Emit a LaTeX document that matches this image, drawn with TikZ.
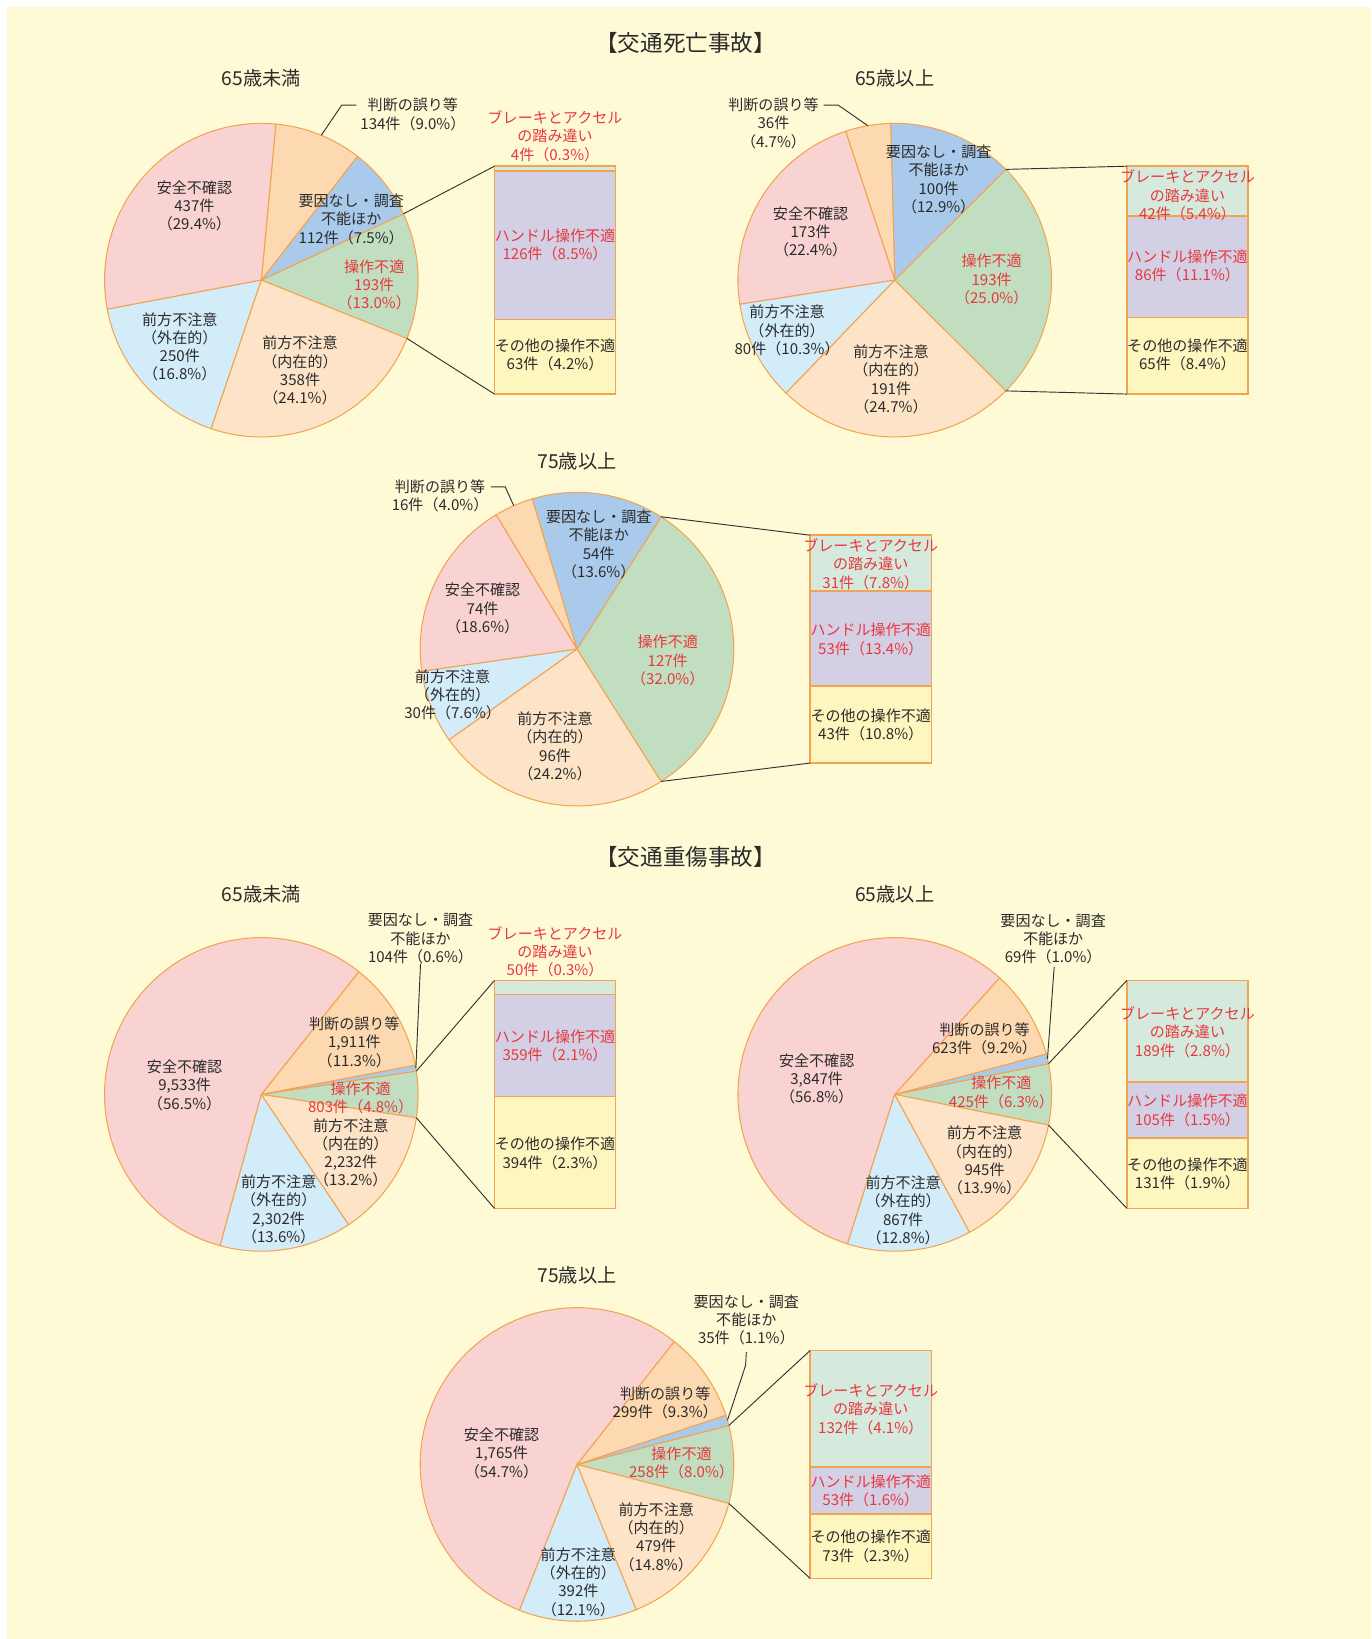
\documentclass[tikz,border=0pt]{standalone}
\usepackage{fontspec}
\setmainfont{Noto Sans CJK JP}
\usetikzlibrary{calc}

\definecolor{bgyellow}{HTML}{FFFAD6}
\definecolor{pieline}{HTML}{F2A450}
\definecolor{unsafecol}{HTML}{F9D2D2}
\definecolor{judgecol}{HTML}{FCD9B0}
\definecolor{nocausecol}{HTML}{A9CAEB}
\definecolor{opcol}{HTML}{C1DFC0}
\definecolor{intcol}{HTML}{FDE4C9}
\definecolor{extcol}{HTML}{D3ECFA}
\definecolor{brakecol}{HTML}{D5EADD}
\definecolor{handlecol}{HTML}{D3D0E6}
\definecolor{othercol}{HTML}{FEF6BF}
\definecolor{txtdark}{HTML}{2B2B2B}
\definecolor{txtred}{HTML}{E8383D}
\definecolor{linegray}{HTML}{333333}

\tikzset{
  slice/.style={draw=pieline, line width=0.5pt, line join=round},
  boxseg/.style={draw=pieline, line width=0.7pt},
  lbl/.style={align=center, inner sep=0pt, text=txtdark, font=\fontsize{7.2}{8.75}\selectfont},
  redlbl/.style={lbl, text=txtred},
  subtitle/.style={inner sep=0pt, text=txtdark, font=\fontsize{9.2}{11}\selectfont},
  maintitle/.style={inner sep=0pt, text=txtdark, font=\fontsize{10.8}{13}\selectfont},
  conn/.style={draw=linegray, line width=0.45pt},
}

\begin{document}
\begin{tikzpicture}[x=0.5pt, y=0.5pt]
        % Draw background
        \useasboundingbox (0,0) rectangle (1312,-1568);
        \fill[white] (0,0) rectangle (1312,-1568);
        \fill[bgyellow] (6.7,-6.7) rectangle (1312,-1568);

        % Draw titles
        \node[maintitle] (dtitle) at (656,-41) {【交通死亡事故】};
        \node[maintitle] (stitle) at (656,-820) {【交通重傷事故】};

        % Draw death, under 65
        \begin{scope}[shift={(250,-268)}]
        \node[subtitle] (d1title) at (0,193) {65歳未満};
        \foreach \a/\b/\c in {-21.81/25.01/opcol, 25.01/52.18/nocausecol, 52.18/84.69/judgecol, 84.69/190.70/unsafecol, 190.70/251.35/extcol, 251.35/338.19/intcol}
          \filldraw[slice, fill=\c] (0,0) -- (\a:150) arc[start angle=\a, end angle=\b, radius=150] -- cycle;
        \foreach \t/\b/\c in {109/104.48/brakecol, 104.48/-37.84/handlecol, -37.84/-109/othercol}
          \filldraw[boxseg, fill=\c] (223,\t) rectangle (339,\b);
        \coordinate (d1gtop) at (25.01:150);
        \coordinate (d1gbot) at (-21.81:150);
        \coordinate (d1btop) at (223,109);
        \coordinate (d1bbot) at (223,-109);
        \draw[conn] (d1gtop) -- (d1btop);
        \draw[conn] (d1gbot) -- (d1bbot);
        \coordinate (d1edge) at (67.5:150);
        \coordinate (d1bend) at (77,167.5);
        \coordinate (d1tip) at (91,167.5);
        \draw[conn] (d1edge) -- (d1bend) -- (d1tip);
        \node[lbl] (d1unsafe) at (-64,71) {安全不確認\\437件\\（29.4\%）};
        \node[lbl] (d1judge) at (145,158.7) {判断の誤り等\\134件（9.0\%）};
        \node[lbl] (d1nocause) at (86,58.2) {要因なし・調査\\不能ほか\\112件（7.5\%）};
        \node[redlbl] (d1op) at (108,-4.4) {操作不適\\193件\\（13.0\%）};
        \node[lbl] (d1int) at (37,-86.6) {前方不注意\\（内在的）\\358件\\（24.1\%）};
        \node[lbl] (d1ext) at (-78,-63.8) {前方不注意\\（外在的）\\250件\\（16.8\%）};
        \node[redlbl] (d1brake) at (281,137.7) {ブレーキとアクセル\\の踏み違い\\4件（0.3\%）};
        \node[redlbl] (d1handle) at (281,34) {ハンドル操作不適\\126件（8.5\%）};
        \node[lbl] (d1other) at (281,-71.7) {その他の操作不適\\63件（4.2\%）};
        \end{scope}

        % Draw death, 65 and over
        \begin{scope}[shift={(856,-268)}]
        \node[subtitle] (d2title) at (0,193) {65歳以上};
        \foreach \a/\b/\c in {-44.94/44.94/opcol, 44.94/91.51/nocausecol, 91.51/108.28/judgecol, 108.28/188.85/unsafecol, 188.85/226.11/extcol, 226.11/315.06/intcol}
          \filldraw[slice, fill=\c] (0,0) -- (\a:150) arc[start angle=\a, end angle=\b, radius=150] -- cycle;
        \foreach \t/\b/\c in {109/61.56/brakecol, 61.56/-35.58/handlecol, -35.58/-109/othercol}
          \filldraw[boxseg, fill=\c] (222,\t) rectangle (338,\b);
        \coordinate (d2gtop) at (44.94:150);
        \coordinate (d2gbot) at (-44.94:150);
        \coordinate (d2btop) at (222,109);
        \coordinate (d2bbot) at (222,-109);
        \draw[conn] (d2gtop) -- (d2btop);
        \draw[conn] (d2gbot) -- (d2bbot);
        \coordinate (d2edge) at (99.9:150);
        \coordinate (d2bend) at (-54.2,167.5);
        \coordinate (d2tip) at (-68,167.5);
        \draw[conn] (d2edge) -- (d2bend) -- (d2tip);
        \node[lbl] (d2judge) at (-116,150.2) {判断の誤り等\\36件\\（4.7\%）};
        \node[lbl] (d2nocause) at (42,96.5) {要因なし・調査\\不能ほか\\100件\\（12.9\%）};
        \node[lbl] (d2unsafe) at (-80.5,46.1) {安全不確認\\173件\\（22.4\%）};
        \node[redlbl] (d2op) at (92.7,0.6) {操作不適\\193件\\（25.0\%）};
        \node[lbl] (d2ext) at (-103,-48.2) {前方不注意\\（外在的）\\80件（10.3\%）};
        \node[lbl] (d2int) at (-3.6,-94.8) {前方不注意\\（内在的）\\191件\\（24.7\%）};
        \node[redlbl] (d2brake) at (280,81) {ブレーキとアクセル\\の踏み違い\\42件（5.4\%）};
        \node[redlbl] (d2handle) at (280,13.3) {ハンドル操作不適\\86件（11.1\%）};
        \node[lbl] (d2other) at (280,-71.3) {その他の操作不適\\65件（8.4\%）};
        \end{scope}

        % Draw death, 75 and over
        \begin{scope}[shift={(552,-621)}]
        \node[subtitle] (d3title) at (0,180) {75歳以上};
        \foreach \a/\b/\c in {-57.58/57.58/opcol, 57.58/106.55/nocausecol, 106.55/121.06/judgecol, 121.06/188.16/unsafecol, 188.16/215.36/extcol, 215.36/302.42/intcol}
          \filldraw[slice, fill=\c] (0,0) -- (\a:150) arc[start angle=\a, end angle=\b, radius=150] -- cycle;
        \foreach \t/\b/\c in {109/55.79/brakecol, 55.79/-35.19/handlecol, -35.19/-109/othercol}
          \filldraw[boxseg, fill=\c] (223,\t) rectangle (339,\b);
        \coordinate (d3gtop) at (57.58:150);
        \coordinate (d3gbot) at (-57.58:150);
        \coordinate (d3btop) at (223,109);
        \coordinate (d3bbot) at (223,-109);
        \draw[conn] (d3gtop) -- (d3btop);
        \draw[conn] (d3gbot) -- (d3bbot);
        \coordinate (d3edge) at (113.8:150);
        \coordinate (d3bend) at (-68.7,155.3);
        \coordinate (d3tip) at (-82.4,155.3);
        \draw[conn] (d3edge) -- (d3bend) -- (d3tip);
        \node[lbl] (d3judge) at (-131,146.8) {判断の誤り等\\16件（4.0\%）};
        \node[lbl] (d3nocause) at (20.8,100.3) {要因なし・調査\\不能ほか\\54件\\（13.6\%）};
        \node[lbl] (d3unsafe) at (-90.3,38.7) {安全不確認\\74件\\（18.6\%）};
        \node[redlbl] (d3op) at (86.8,-11) {操作不適\\127件\\（32.0\%）};
        \node[lbl] (d3ext) at (-119,-43.8) {前方不注意\\（外在的）\\30件（7.6\%）};
        \node[lbl] (d3int) at (-21,-93.1) {前方不注意\\（内在的）\\96件\\（24.2\%）};
        \node[redlbl] (d3brake) at (281,81.4) {ブレーキとアクセル\\の踏み違い\\31件（7.8\%）};
        \node[redlbl] (d3handle) at (281,9.3) {ハンドル操作不適\\53件（13.4\%）};
        \node[lbl] (d3other) at (281,-72.8) {その他の操作不適\\43件（10.8\%）};
        \end{scope}

        % Draw serious injury, under 65
        \begin{scope}[shift={(250,-1047)}]
        \node[subtitle] (s1title) at (0,191.5) {65歳未満};
        \foreach \a/\b/\c in {-8.56/8.56/opcol, 8.56/10.78/nocausecol, 10.78/51.52/judgecol, 51.52/254.77/unsafecol, 254.77/303.85/extcol, 303.85/351.44/intcol}
          \filldraw[slice, fill=\c] (0,0) -- (\a:150) arc[start angle=\a, end angle=\b, radius=150] -- cycle;
        \foreach \t/\b/\c in {109/95.43/brakecol, 95.43/-2.03/handlecol, -2.03/-109/othercol}
          \filldraw[boxseg, fill=\c] (223,\t) rectangle (339,\b);
        \coordinate (s1gtop) at (8.56:150);
        \coordinate (s1gbot) at (-8.56:150);
        \coordinate (s1btop) at (223,109);
        \coordinate (s1bbot) at (223,-109);
        \draw[conn] (s1gtop) -- (s1btop);
        \draw[conn] (s1gbot) -- (s1bbot);
        \coordinate (s1edge) at (9.67:150);
        \coordinate (s1tip) at (152.3,125);
        \draw[conn] (s1edge) -- (s1tip);
        \node[lbl] (s1nocause) at (152.3,149.1) {要因なし・調査\\不能ほか\\104件（0.6\%）};
        \node[lbl] (s1judge) at (89,49.9) {判断の誤り等\\1,911件\\（11.3\%）};
        \node[lbl] (s1unsafe) at (-73.4,8.7) {安全不確認\\9,533件\\（56.5\%）};
        \node[redlbl] (s1op) at (95,-3) {操作不適\\803件（4.8\%）};
        \node[lbl] (s1int) at (85.6,-55.9) {前方不注意\\（内在的）\\2,232件\\（13.2\%）};
        \node[lbl] (s1ext) at (16.6,-110.1) {前方不注意\\（外在的）\\2,302件\\（13.6\%）};
        \node[redlbl] (s1brake) at (281,136.5) {ブレーキとアクセル\\の踏み違い\\50件（0.3\%）};
        \node[redlbl] (s1handle) at (281,46.2) {ハンドル操作不適\\359件（2.1\%）};
        \node[lbl] (s1other) at (281,-56.4) {その他の操作不適\\394件（2.3\%）};
        \end{scope}

        % Draw serious injury, 65 and over
        \begin{scope}[shift={(856,-1047)}]
        \node[subtitle] (s2title) at (0,191.5) {65歳以上};
        \foreach \a/\b/\c in {-11.29/11.29/opcol, 11.29/14.96/nocausecol, 14.96/48.06/judgecol, 48.06/252.45/unsafecol, 252.45/298.51/extcol, 298.51/348.71/intcol}
          \filldraw[slice, fill=\c] (0,0) -- (\a:150) arc[start angle=\a, end angle=\b, radius=150] -- cycle;
        \foreach \t/\b/\c in {109/12.06/brakecol, 12.06/-41.80/handlecol, -41.80/-109/othercol}
          \filldraw[boxseg, fill=\c] (222,\t) rectangle (338,\b);
        \coordinate (s2gtop) at (11.29:150);
        \coordinate (s2gbot) at (-11.29:150);
        \coordinate (s2btop) at (222,109);
        \coordinate (s2bbot) at (222,-109);
        \draw[conn] (s2gtop) -- (s2btop);
        \draw[conn] (s2gbot) -- (s2bbot);
        \coordinate (s2edge) at (13.1:150);
        \coordinate (s2tip) at (152.5,122);
        \draw[conn] (s2edge) -- (s2tip);
        \node[lbl] (s2nocause) at (151.5,148.8) {要因なし・調査\\不能ほか\\69件（1.0\%）};
        \node[lbl] (s2judge) at (85.9,52.9) {判断の誤り等\\623件（9.2\%）};
        \node[lbl] (s2unsafe) at (-74.7,14.7) {安全不確認\\3,847件\\（56.8\%）};
        \node[redlbl] (s2op) at (102,1.8) {操作不適\\425件（6.3\%）};
        \node[lbl] (s2int) at (85.9,-63.4) {前方不注意\\（内在的）\\945件\\（13.9\%）};
        \node[lbl] (s2ext) at (8,-110.8) {前方不注意\\（外在的）\\867件\\（12.8\%）};
        \node[redlbl] (s2brake) at (280,59.7) {ブレーキとアクセル\\の踏み違い\\189件（2.8\%）};
        \node[redlbl] (s2handle) at (280,-15.4) {ハンドル操作不適\\105件（1.5\%）};
        \node[lbl] (s2other) at (280,-75.7) {その他の操作不適\\131件（1.9\%）};
        \end{scope}

        % Draw serious injury, 75 and over
        \begin{scope}[shift={(552,-1401)}]
        \node[subtitle] (s3title) at (0,181) {75歳以上};
        \foreach \a/\b/\c in {-14.39/14.39/opcol, 14.39/18.29/nocausecol, 18.29/51.64/judgecol, 51.64/248.48/unsafecol, 248.48/292.20/extcol, 292.20/345.61/intcol}
          \filldraw[slice, fill=\c] (0,0) -- (\a:150) arc[start angle=\a, end angle=\b, radius=150] -- cycle;
        \foreach \t/\b/\c in {109/-2.53/brakecol, -2.53/-47.31/handlecol, -47.31/-109/othercol}
          \filldraw[boxseg, fill=\c] (223,\t) rectangle (339,\b);
        \coordinate (s3gtop) at (14.39:150);
        \coordinate (s3gbot) at (-14.39:150);
        \coordinate (s3btop) at (223,109);
        \coordinate (s3bbot) at (223,-109);
        \draw[conn] (s3gtop) -- (s3btop);
        \draw[conn] (s3gbot) -- (s3bbot);
        \coordinate (s3edge) at (16.34:150);
        \coordinate (s3bend) at (161.3,94.8);
        \coordinate (s3tip) at (162,107.5);
        \draw[conn] (s3edge) -- (s3bend) -- (s3tip);
        \node[lbl] (s3nocause) at (162,138.1) {要因なし・調査\\不能ほか\\35件（1.1\%）};
        \node[lbl] (s3judge) at (84.4,58.9) {判断の誤り等\\299件（9.3\%）};
        \node[lbl] (s3unsafe) at (-72.2,10.6) {安全不確認\\1,765件\\（54.7\%）};
        \node[redlbl] (s3op) at (100,1.7) {操作不適\\258件（8.0\%）};
        \node[lbl] (s3int) at (75.8,-69.4) {前方不注意\\（内在的）\\479件\\（14.8\%）};
        \node[lbl] (s3ext) at (1.3,-112.6) {前方不注意\\（外在的）\\392件\\（12.1\%）};
        \node[redlbl] (s3brake) at (281,52.8) {ブレーキとアクセル\\の踏み違い\\132件（4.1\%）};
        \node[redlbl] (s3handle) at (281,-25) {ハンドル操作不適\\53件（1.6\%）};
        \node[lbl] (s3other) at (281,-78.3) {その他の操作不適\\73件（2.3\%）};
        \end{scope}
    \end{tikzpicture}
\end{document}
